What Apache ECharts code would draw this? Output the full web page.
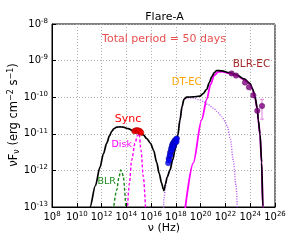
<!DOCTYPE html>
<html><head><meta charset="utf-8">
<script src="https://cdn.jsdelivr.net/npm/echarts@6/dist/echarts.min.js"></script>
<style>html,body{margin:0;padding:0;background:#fff}#c{width:305px;height:245px}</style>
</head><body><div id="c"></div>
<script>
// all values are log10 exponents
const xRange = [8, 26];
const yRange = [-13, -8];
const totalNu = [10.95, 11.07, 11.5, 11.87, 12.15, 12.41, 12.65, 12.82, 13.0, 13.22, 13.5, 13.75, 14.15, 14.56, 15.0, 15.37, 15.65, 15.95, 16.2, 16.45, 16.65, 16.85, 16.97, 17.04, 17.15, 17.3, 17.52, 17.75, 17.93, 18.15, 18.33, 18.5, 18.65, 18.87, 19.4, 19.94, 20.2, 20.48, 20.7, 20.89, 21.1, 21.3, 21.7, 22.3, 22.9, 23.5, 23.98, 24.2, 24.38, 24.57, 24.65, 24.79, 24.92, 25.02, 25.08];
const totalF  = [-13.2, -13.0, -12.42, -11.92, -11.55, -11.26, -11.05, -10.93, -10.86, -10.82, -10.81, -10.82, -10.86, -10.92, -10.97, -11.03, -11.13, -11.26, -11.45, -11.78, -12.08, -12.35, -12.5, -12.55, -12.38, -12.18, -11.99, -11.7, -11.44, -11.05, -10.62, -10.25, -10.06, -10.0, -9.99, -9.97, -9.9, -9.79, -9.6, -9.44, -9.33, -9.27, -9.28, -9.33, -9.39, -9.5, -9.62, -9.78, -9.99, -10.3, -10.62, -11.0, -11.78, -12.98, -13.5];
const blrecNu = [18.73, 19.4, 20.08, 20.5, 20.8, 21.1, 21.42, 21.7, 22.3, 22.9, 23.5, 23.98, 24.2, 24.38, 24.57, 24.65, 24.79, 24.92, 25.02, 25.08];
const blrecF  = [-13.1, -11.8, -10.62, -10.05, -9.65, -9.4, -9.31, -9.3, -9.35, -9.41, -9.52, -9.64, -9.8, -10.01, -10.32, -10.64, -11.02, -11.8, -13.0, -13.5];
const dtecNu = [16.97, 17.05, 17.15, 17.3, 17.52, 17.75, 17.93, 18.15, 18.33, 18.5, 18.65, 18.87, 19.4, 19.9, 20.21, 20.6, 21.02, 21.4, 21.7, 21.95, 22.15, 22.4, 22.63, 22.85, 22.98];
const dtecF  = [-13.3, -12.75, -12.45, -12.2, -12.0, -11.71, -11.45, -11.06, -10.64, -10.27, -10.08, -10.02, -10.02, -10.07, -10.12, -10.2, -10.3, -10.42, -10.53, -10.65, -10.8, -11.15, -11.72, -12.4, -13.2];
const diskNu = [14.08, 14.25, 14.43, 14.7, 14.9, 15.03, 15.18, 15.37, 15.56];
const diskF  = [-13.1, -12.35, -11.72, -11.26, -11.05, -10.99, -11.44, -12.17, -13.1];
const blrNu = [12.95, 13.22, 13.4, 13.54, 13.65, 13.75, 13.97];
const blrF  = [-13.1, -12.54, -12.2, -11.99, -12.03, -12.17, -13.1];
const optNu = [14.65, 14.72, 14.8, 14.87, 14.93, 15.0, 15.07, 15.13, 15.2];
const optF  = [-10.93, -10.91, -10.92, -10.9, -10.91, -10.93, -10.92, -10.95, -10.97];
const xrayNu = [17.38, 17.42, 17.46, 17.5, 17.53, 17.56, 17.6, 17.62, 17.66, 17.68, 17.71, 17.74, 17.76, 17.79, 17.82, 17.85, 17.88, 17.91, 17.94, 17.98, 18.01, 18.05, 18.08];
const xrayF  = [-11.8, -11.68, -11.72, -11.6, -11.52, -11.58, -11.47, -11.4, -11.45, -11.35, -11.3, -11.38, -11.28, -11.25, -11.33, -11.22, -11.28, -11.18, -11.24, -11.2, -11.15, -11.22, -11.13];
const gamNu = [22.5, 22.85, 23.58, 23.9, 24.25, 24.57, 24.95];
const gamF  = [-9.35, -9.41, -9.6, -9.73, -9.95, -10.37, -10.24];
const gamErrLo = [null, null, null, null, null, null, -10.6];
const gamErrHi = [null, null, null, null, null, null, -10.06];

const P = v => Math.pow(10, v);
const pairs = (a, b) => a.map((v, i) => [P(v), P(b[i])]);
const FONT = 'DejaVu Sans';

function expLabel(v) {
  const e = Math.round(Math.log10(v));
  return '{b|10}{s|' + (e < 0 ? '-' + (-e) : e) + '}';
}
const richLbl = {
  b: { fontSize: 10, fontFamily: FONT, color: '#000', lineHeight: 13 },
  s: { fontSize: 7, fontFamily: FONT, color: '#000', lineHeight: 6, verticalAlign: 'top' }
};
const lineSeries = (nu, f, color, type, width) => ({
  type: 'line', data: pairs(nu, f), showSymbol: false, smooth: 0.3, smoothMonotone: 'x', clip: true,
  lineStyle: { color, type, width }, z: 3, animation: false
});

const errData = gamNu.map((v, i) => gamErrLo[i] == null ? null : [P(v), P(gamErrLo[i]), P(gamErrHi[i])]).filter(d => d);

const option = {
  animation: false,
  grid: { left: 52, right: 30, top: 24, bottom: 38, show: true, borderColor: '#000', borderWidth: 1 },
  xAxis: {
    type: 'log', logBase: 10, min: P(xRange[0]), max: P(xRange[1]), interval: 2,
    axisLine: { show: true, lineStyle: { color: '#000' } },
    axisTick: { show: true, inside: true, length: 4, lineStyle: { color: '#000' } },
    splitLine: { show: true, lineStyle: { color: '#b0b0b0', type: [1, 2], width: 1 } },
    minorTick: { show: false },
    axisLabel: { formatter: expLabel, rich: richLbl, margin: 4, hideOverlap: false, showMinLabel: true, showMaxLabel: true }
  },
  yAxis: {
    type: 'log', logBase: 10, min: P(yRange[0]), max: P(yRange[1]), interval: 1,
    axisLine: { show: true, lineStyle: { color: '#000' } },
    axisTick: { show: true, inside: true, length: 4, lineStyle: { color: '#000' } },
    splitLine: { show: true, lineStyle: { color: '#b0b0b0', type: [1, 2], width: 1 } },
    axisLabel: { formatter: expLabel, rich: richLbl, margin: 4, showMinLabel: true, showMaxLabel: true }
  },
  series: [
    lineSeries(blrNu, blrF, '#1a8a1a', [3, 2], 1.4),
    lineSeries(diskNu, diskF, '#ff00ff', [3, 2], 1.4),
    lineSeries(dtecNu, dtecF, '#b455f0', [1, 1.5], 1.4),
    lineSeries(blrecNu, blrecF, '#ff00ff', 'solid', 1.8),
    lineSeries(totalNu, totalF, '#000000', 'solid', 1.7),
    { type: 'custom', animation: false, z: 4, data: errData,
      renderItem: (params, api) => {
        const lo = api.coord([api.value(0), api.value(1)]);
        const hi = api.coord([api.value(0), api.value(2)]);
        return { type: 'group', children: [
          { type: 'line', shape: { x1: lo[0], y1: lo[1], x2: hi[0], y2: hi[1] }, style: { stroke: '#e080e0', lineWidth: 1 } },
          { type: 'line', shape: { x1: lo[0] - 2, y1: lo[1], x2: lo[0] + 2, y2: lo[1] }, style: { stroke: '#e080e0', lineWidth: 1 } },
          { type: 'line', shape: { x1: hi[0] - 2, y1: hi[1], x2: hi[0] + 2, y2: hi[1] }, style: { stroke: '#e080e0', lineWidth: 1 } }
        ]};
      } },
    { type: 'scatter', data: pairs(optNu, optF), symbolSize: 5.5, itemStyle: { color: '#ff0000', borderColor: '#a00000', borderWidth: 0.5 }, z: 5 },
    { type: 'scatter', data: pairs(xrayNu, xrayF), symbolSize: 5.5, itemStyle: { color: '#0000ff', borderColor: '#000080', borderWidth: 0.5 }, z: 5 },
    { type: 'scatter', data: pairs(gamNu, gamF), symbolSize: 5.5, itemStyle: { color: '#800080', borderColor: '#500050', borderWidth: 0.5 }, z: 5 }
  ],
  graphic: [
    { type: 'text', x: 164.5, y: 17, style: { text: 'Flare-A', font: '11px "DejaVu Sans"', fill: '#000', align: 'center', verticalAlign: 'middle' }, z: 10 },
    { type: 'text', x: 164, y: 39, style: { text: 'Total period = 50 days', font: '11px "DejaVu Sans"', fill: '#e85050', align: 'center', verticalAlign: 'middle' }, z: 10 },
    { type: 'text', x: 251.5, y: 64, style: { text: 'BLR-EC', font: '10.5px "DejaVu Sans"', fill: '#a52a2a', align: 'center', verticalAlign: 'middle' }, z: 10 },
    { type: 'text', x: 186.7, y: 82, style: { text: 'DT-EC', font: '10px "DejaVu Sans"', fill: '#ffa500', align: 'center', verticalAlign: 'middle' }, z: 10 },
    { type: 'text', x: 128, y: 119, style: { text: 'Sync', font: '11px "DejaVu Sans"', fill: '#ff0000', align: 'center', verticalAlign: 'middle' }, z: 10 },
    { type: 'text', x: 121.7, y: 145, style: { text: 'Disk', font: '9.5px "DejaVu Sans"', fill: '#ff00ff', align: 'center', verticalAlign: 'middle' }, z: 10 },
    { type: 'text', x: 106.7, y: 181.5, style: { text: 'BLR', font: '9.5px "DejaVu Sans"', fill: '#1a8a1a', align: 'center', verticalAlign: 'middle' }, z: 10 },
    { type: 'text', x: 164, y: 228, style: { text: '\u03bd (Hz)', font: '11px "DejaVu Sans"', fill: '#000', align: 'center', verticalAlign: 'middle' }, z: 10 },
    { type: 'text', x: 14, y: 115, rotation: Math.PI / 2, z: 10,
      style: { text: '{b|\u03bdF}{d|\u03bd}{b| (erg cm}{u|\u22122}{b| s}{u|\u22121}{b|)}', align: 'center', verticalAlign: 'middle',
        rich: {
          b: { fontSize: 11.5, fontFamily: FONT, color: '#000', lineHeight: 14 },
          u: { fontSize: 8, fontFamily: FONT, color: '#000', lineHeight: 6, verticalAlign: 'top' },
          d: { fontSize: 8, fontFamily: FONT, color: '#000', lineHeight: 6, verticalAlign: 'bottom' }
        } } }
  ]
};
const chart = echarts.init(document.getElementById('c'), null, { renderer: 'canvas' });
chart.setOption(option);
</script>
</body></html>
